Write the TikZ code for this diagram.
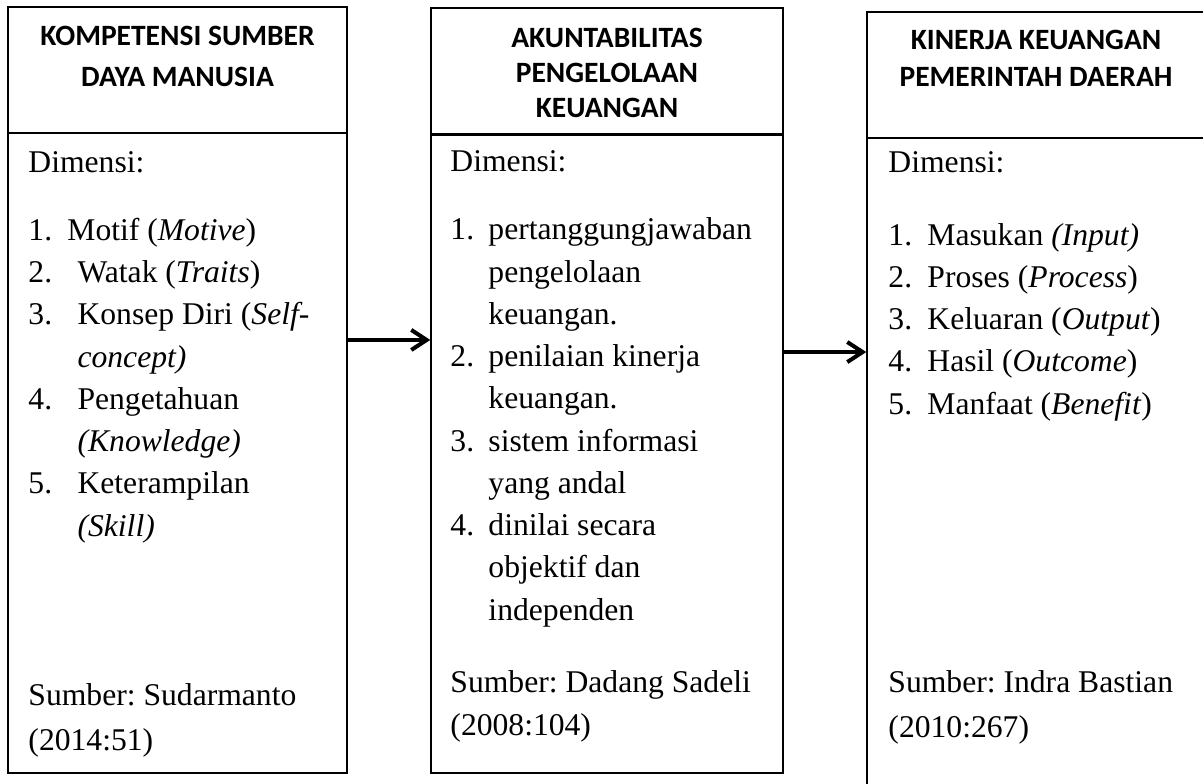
\documentclass[tikz,border=0pt]{standalone}
\usepackage{fontspec}
\setmainfont{Liberation Serif}
\newfontfamily\headfont{Carlito}
\usetikzlibrary{arrows.meta,positioning,fit}
\frenchspacing

\newcommand{\numbox}[2]{\makebox[#1][l]{#2}}

\begin{document}
\begin{tikzpicture}[
  x=0.4237pt, y=-0.4237pt,
  box/.style={draw=black, line width=0.6pt, inner sep=0pt},
  ttl/.style={font=\headfont\bfseries\fontsize{12.5pt}{#1}\selectfont, align=center,
              inner sep=0pt, anchor=base},
  dim/.style={font=\fontsize{13.4pt}{17.9pt}\selectfont, align=left, inner sep=0pt,
              anchor=base west},
  src/.style={font=\fontsize{13.4pt}{#1}\selectfont, align=left, inner sep=0pt,
              anchor=base west},
  flow/.style={line width=1.7pt, -{Straight Barb[length=6.5pt, width=8.5pt]}}
]
\useasboundingbox (0,0) rectangle (1203,783);
\clip (0,0) rectangle (1203,783);

% ---- kompetensi SDM
\node[box, fit={(8,7) (347,133)}] (kompH) {};
\node[ttl=17.4pt] (kompT) at (177.5,87) {KOMPETENSI SUMBER\\DAYA MANUSIA};
\node[box, fit={(8,133) (347,773)}] (kompB) {};
\node[dim] (kompD) at (28,536) {Dimensi:\\[11pt]
  \numbox{16.5pt}{1.}Motif (\textit{Motive})\\
  \numbox{20.8pt}{2.}Watak (\textit{Traits})\\
  \numbox{20.8pt}{3.}Konsep Diri (\textit{Self-}\\
  \hspace*{20.8pt}\textit{concept)}\\
  \numbox{20.8pt}{4.}Pengetahuan\\
  \hspace*{20.8pt}\textit{(Knowledge)}\\
  \numbox{20.8pt}{5.}Keterampilan\\
  \hspace*{20.8pt}\textit{(Skill)}};
\node[src=19pt] (kompS) at (28,750) {Sumber: Sudarmanto\\(2014:51)};

% ---- akuntabilitas
\node[box, fit={(431,8) (783,134)}] (akunH) {};
\node[ttl=15pt] (akunT) at (607,118) {AKUNTABILITAS\\PENGELOLAAN\\KEUANGAN};
\node[box, fit={(431,135) (783,773)}] (akunB) {};
\node[dim] (akunD) at (450,620) {Dimensi:\\[11pt]
  \numbox{16.1pt}{1.}pertanggungjawaban\\
  \hspace*{16.1pt}pengelolaan\\
  \hspace*{16.1pt}keuangan.\\
  \numbox{16.1pt}{2.}penilaian kinerja\\
  \hspace*{16.1pt}keuangan.\\
  \numbox{16.1pt}{3.}sistem informasi\\
  \hspace*{16.1pt}yang andal\\
  \numbox{16.1pt}{4.}dinilai secara\\
  \hspace*{16.1pt}objektif dan\\
  \hspace*{16.1pt}independen};
\node[src=17.8pt] (akunS) at (450,735) {Sumber: Dadang Sadeli\\(2008:104)};

% ---- kinerja keuangan (runs past the page edge)
\node[box, fit={(867,12) (1206,138)}] (kinH) {};
\node[ttl=15.7pt] (kinT) at (1036,87) {KINERJA KEUANGAN\\PEMERINTAH DAERAH};
\node[box, fit={(867,138) (1206,800)}] (kinB) {};
\node[dim] (kinD) at (888,414) {Dimensi:\\[12.7pt]
  \numbox{16.5pt}{1.}Masukan \textit{(Input)}\\
  \numbox{16.5pt}{2.}Proses (\textit{Process})\\
  \numbox{16.5pt}{3.}Keluaran (\textit{Output})\\
  \numbox{16.5pt}{4.}Hasil (\textit{Outcome})\\
  \numbox{16.5pt}{5.}Manfaat (\textit{Benefit})};
\node[src=19pt] (kinS) at (888,737) {Sumber: Indra Bastian\\(2010:267)};

% arrows
\draw[flow] ([yshift=47.9pt]kompB.east) -- ([yshift=47.9pt]kompB.east -| akunB.west);
\draw[flow] ([yshift=43.2pt]akunB.east) -- ([yshift=43.2pt]akunB.east -| kinB.west);
\end{tikzpicture}
\end{document}
